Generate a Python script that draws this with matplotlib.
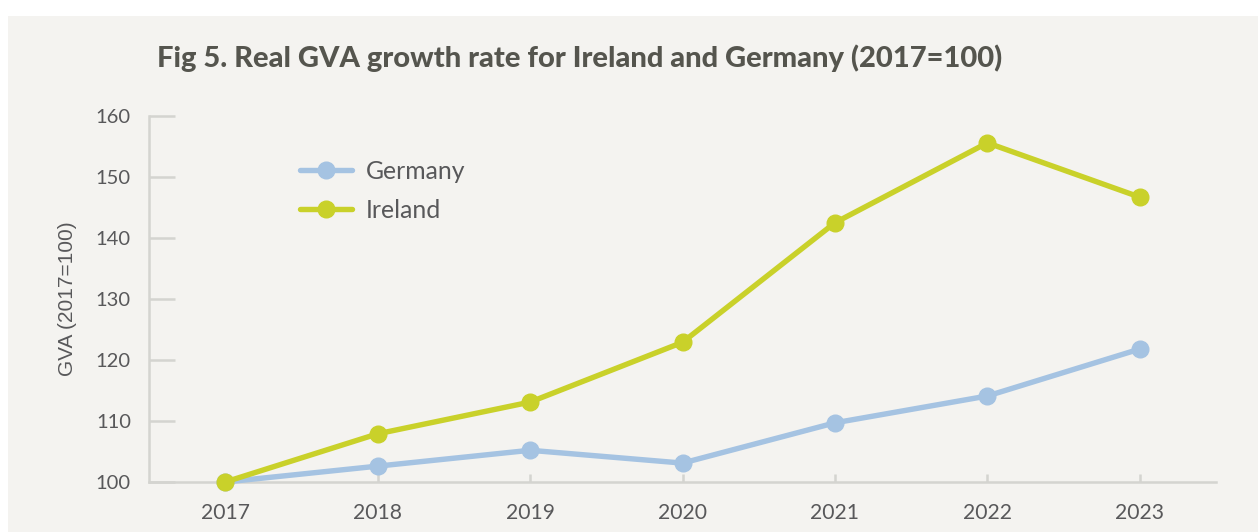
import matplotlib
matplotlib.use("Agg")
import matplotlib.pyplot as plt
from matplotlib.patches import Rectangle

years = ["2017", "2018", "2019", "2020", "2021", "2022", "2023"]
germany = [100.0, 102.6, 105.2, 103.1, 109.7, 114.1, 121.8]
ireland = [100.0, 107.9, 113.1, 122.9, 142.5, 155.6, 146.7]
y_ticks = [100, 110, 120, 130, 140, 150, 160]

W, H = 1258, 532
fig = plt.figure(figsize=(W / 100, H / 100), dpi=100, facecolor="white")

# light panel behind the chart
fig.patches.append(Rectangle((8 / W, 0), 1, 1 - 16 / H, transform=fig.transFigure,
                             facecolor="#f4f3f0", edgecolor="none", zorder=-10))

ax_w = 1216 - 149
ax = fig.add_axes([149 / W, 1 - 482 / H, ax_w / W, (482 - 116) / H])
ax.set_facecolor("none")

text_col = "#58585a"
spine_col = "#d4d4d0"
blue = "#a5c3e2"
green = "#c9d12a"

x = list(range(len(years)))
ax.plot(x, germany, color=blue, lw=3.9, marker="o", ms=12, solid_capstyle="round",
        label="Germany", clip_on=False, zorder=3)
ax.plot(x, ireland, color=green, lw=3.9, marker="o", ms=12, solid_capstyle="round",
        label="Ireland", clip_on=False, zorder=4)

ax.set_xlim(-0.5, len(years) - 0.5)
ax.set_ylim(100, 160)
ax.set_xticks(x)
ax.set_xticklabels(years)
ax.set_yticks(y_ticks)

for s in ["top", "right"]:
    ax.spines[s].set_visible(False)
for s in ["left", "bottom"]:
    ax.spines[s].set_color(spine_col)
    ax.spines[s].set_linewidth(1.8)

ax.tick_params(axis="y", direction="in", length=19, width=1.8, color=spine_col,
               pad=13, labelsize=14.5, labelcolor=text_col)
ax.tick_params(axis="x", direction="in", length=6, width=1.8, color=spine_col,
               pad=15, labelsize=15.2, labelcolor=text_col)
for lab in ax.get_xticklabels() + ax.get_yticklabels():
    lab.set_family("Lato")

ax.set_ylabel("GVA (2017=100)", family="Liberation Sans", fontsize=15,
              color=text_col)
ax.yaxis.set_label_coords(-72 / ax_w, 0.5)

fig.text(157 / W, 1 - 58 / H, "Fig 5. Real GVA growth rate for Ireland and Germany (2017=100)",
         family="Lato", weight="black", fontsize=21, color="#55554e",
         ha="left", va="center")

leg = ax.legend(loc="upper left", bbox_to_anchor=(300 / W, 1 - 160 / H),
                bbox_transform=fig.transFigure, frameon=False,
                prop={"family": "Lato", "size": 17.8}, handlelength=2.1,
                handletextpad=0.55, labelspacing=0.65, borderaxespad=0, borderpad=0)
for t in leg.get_texts():
    t.set_color(text_col)

fig.savefig("out.png", dpi=100, facecolor=fig.get_facecolor())
